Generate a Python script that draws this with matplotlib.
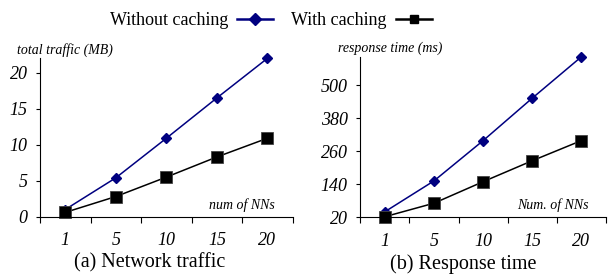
import matplotlib.pyplot as plt
from matplotlib.lines import Line2D

plt.rcParams['font.family'] = ['Liberation Serif', 'DejaVu Serif']

categories = ['1', '5', '10', '15', '20']
traffic_without = [1.0, 5.4, 10.9, 16.5, 22.0]
traffic_with = [0.6, 2.8, 5.5, 8.3, 10.9]
time_without = [40, 152, 298, 452, 602]
time_with = [22, 71, 149, 225, 298]

blue = '#000080'

fig = plt.figure(figsize=(6.09, 2.75), dpi=100)
ax1 = fig.add_axes([0.0657, 0.212, 0.415, 0.576])
ax2 = fig.add_axes([0.5917, 0.21, 0.403, 0.583])


def style(ax, yvals, ylabel, xlabel, ylim, yticks, caption, cap_x):
    x = range(len(categories))
    ax.plot(x, yvals[0], color=blue, marker='D', markersize=5.5, lw=1.1,
            clip_on=False)
    ax.plot(x, yvals[1], color='black', marker='s', markersize=9,
            markeredgecolor='#444444', markeredgewidth=0.6, lw=1.1,
            clip_on=False)
    ax.set_xlim(-0.5, len(categories) - 0.5)
    ax.set_ylim(*ylim)
    ax.set_xticks([i - 0.5 for i in range(len(categories) + 1)])
    ax.set_xticklabels([])
    ax.set_xticks(list(x), minor=True)
    ax.set_xticklabels(categories, minor=True, style='italic', fontsize=13)
    ax.tick_params(axis='x', which='major', length=4, direction='out')
    ax.tick_params(axis='x', which='minor', length=0, pad=11)
    ax.set_yticks(yticks)
    ax.set_yticklabels([str(v) for v in yticks], style='italic', fontsize=13)
    ax.tick_params(axis='y', length=3, direction='out', pad=6)
    for s in ['top', 'right']:
        ax.spines[s].set_visible(False)
    ax.text(-0.09, 1.01, ylabel, transform=ax.transAxes, style='italic',
            fontsize=10, ha='left', va='bottom')
    ax.text(0.93, 0.03, xlabel, transform=ax.transAxes, style='italic',
            fontsize=10, ha='right', va='bottom')
    ax.text(cap_x, -0.29, caption, transform=ax.transAxes, fontsize=14.5,
            ha='center', va='center')


style(ax1, [traffic_without, traffic_with], 'total traffic (MB)', 'num of NNs',
      (0, 22), [0, 5, 10, 15, 20], '(a) Network traffic', 0.435)
style(ax2, [time_without, time_with], 'response time (ms)', 'Num. of NNs',
      (20, 602), [20, 140, 260, 380, 500], '(b) Response time', 0.42)

handles = [Line2D([], [], color=blue, marker='D', markersize=6, lw=1.8),
           Line2D([], [], color='black', marker='s', markersize=6, lw=1.8)]
fig.legend(handles, ['Without caching', 'With caching'], loc='center',
           bbox_to_anchor=(0.445, 0.925), ncol=2, frameon=False, fontsize=13,
           markerfirst=False, handlelength=2, columnspacing=1.0,
           handletextpad=0.5)

fig.savefig('out.png', dpi=100)
